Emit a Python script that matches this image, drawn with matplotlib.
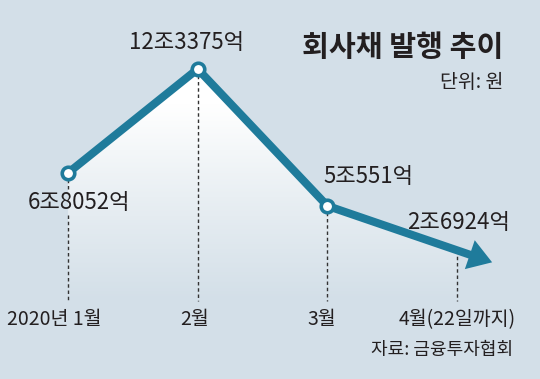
import numpy as np
import matplotlib
matplotlib.use("Agg")
import matplotlib.pyplot as plt
from matplotlib.colors import LinearSegmentedColormap
from matplotlib.patches import Polygon, FancyArrowPatch

plt.rcParams["font.family"] = ["Noto Sans CJK KR", "DejaVu Sans"]

# ------------------------------------------------------------------
# Data (unit: 조원)
# ------------------------------------------------------------------
months = ["2020년 1월", "2월", "3월", "4월(22일까지)"]
values = [6.8052, 12.3375, 5.0551, 2.6924]
value_labels = ["6조8052억", "12조3375억", "5조551억", "2조6924억"]

BG = "#d3dfe8"
LINE = "#1f7b9b"
TXT = "#231f20"

fig = plt.figure(figsize=(5.40, 3.79), dpi=100)
fig.patch.set_facecolor(BG)
ax = fig.add_axes([0, 0, 1, 1])
ax.set_facecolor(BG)
ax.set_xlim(-0.524, 3.639)
ax.set_ylim(-4.152, 16.007)
ax.axis("off")

x = np.arange(len(values))
v = np.array(values)

# gradient fill under the line (white near the peak, fading to background)
poly = Polygon(list(zip(x, v)) + [(x[-1], 0), (x[0], 0)], closed=True,
               facecolor="none", edgecolor="none")
ax.add_patch(poly)
cmap = LinearSegmentedColormap.from_list(
    "fade", [(0.0, BG), (0.45, "#e9eff3"), (0.85, "#ffffff"), (1.0, "#ffffff")])
grad = np.linspace(0, 1, 256).reshape(-1, 1)
im = ax.imshow(grad, extent=[x[0], x[-1], 0, v.max()], origin="lower",
               cmap=cmap, aspect="auto", zorder=1)
im.set_clip_path(poly)

# dashed guides down to the month labels
dash = dict(color="#333333", lw=1.0, linestyle=(0, (2.5, 2)), zorder=2)
ax.plot([x[0], x[0]], [v[0], 5.95], **dash)
ax.plot([x[0], x[0]], [4.57, 0], **dash)
for i in range(1, len(v)):
    ax.plot([x[i], x[i]], [v[i], 0], **dash)

# main line + arrow on the last segment
ax.plot(x[:3], v[:3], color=LINE, lw=5.8, zorder=3, solid_capstyle="round")
tip = (x[3] + 0.27 * (x[3] - x[2]), v[3] + 0.27 * (v[3] - v[2]))
arrow = FancyArrowPatch((x[2], v[2]), tip,
                        arrowstyle="simple,tail_width=0.58,head_width=2.2,head_length=1.7",
                        mutation_scale=10, color=LINE, lw=0,
                        shrinkA=0, shrinkB=0, zorder=3)
ax.add_patch(arrow)
ax.plot(x[:3], v[:3], linestyle="none", marker="o", markersize=9,
        markerfacecolor="white", markeredgecolor=LINE, markeredgewidth=2.6,
        zorder=4)

# value labels
offsets = [(11, -30), (-11, 26), (41, 29), (1, 28)]
for xi, vi, lab, off in zip(x, v, value_labels, offsets):
    ax.annotate(lab, (xi, vi), xytext=off, textcoords="offset pixels",
                ha="center", va="center", fontsize=16, fontweight="medium",
                color=TXT, zorder=5)

# month labels
month_dx = [-14, -3, -6, 0]
for xi, m, dx in zip(x, months, month_dx):
    ax.annotate(m, (xi, -1.01), xytext=(dx, 0), textcoords="offset pixels",
                ha="center", va="center", fontsize=14, fontweight="medium",
                color=TXT)

# title / unit / source
fig.text(503 / 540, 1 - 47 / 379, "회사채 발행 추이", ha="right", va="center",
         fontsize=21, fontweight="bold", color=TXT)
fig.text(503 / 540, 1 - 83 / 379, "단위: 원", ha="right", va="center",
         fontsize=14, color=TXT)
fig.text(513 / 540, 1 - 350 / 379, "자료: 금융투자협회", ha="right", va="center",
         fontsize=13, color=TXT)

fig.savefig("out.png", dpi=100, facecolor=BG)
